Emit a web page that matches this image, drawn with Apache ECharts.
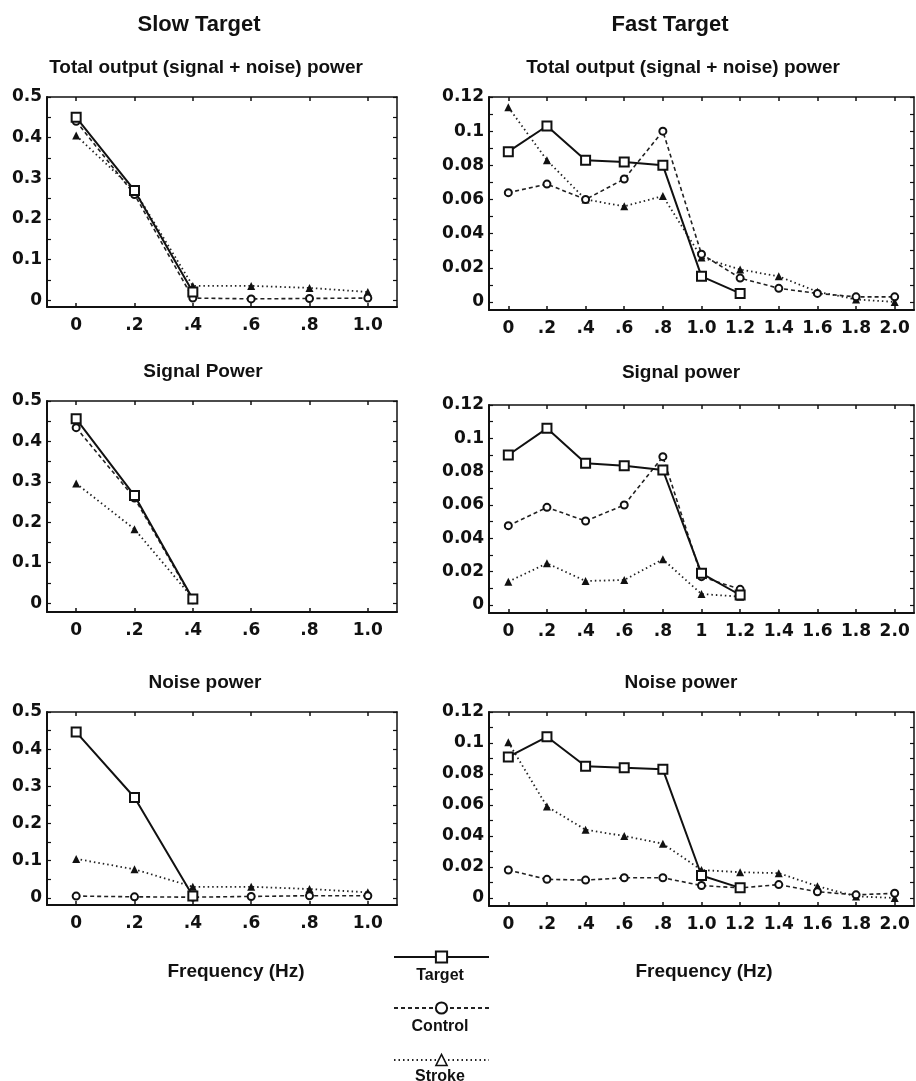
<!DOCTYPE html>
<html>
<head>
<meta charset="utf-8">
<script src="https://cdn.jsdelivr.net/npm/echarts@6/dist/echarts.min.js"></script>
<style>
  html, body { margin: 0; padding: 0; background: #fff; }
  #chart { width: 916px; height: 1081px; }
</style>
</head>
<body>
<div id="chart"></div>
<script>
// ---------- Data ----------
const slowX = [0, 0.2, 0.4, 0.6, 0.8, 1.0];
const fastX = [0, 0.2, 0.4, 0.6, 0.8, 1.0, 1.2, 1.4, 1.6, 1.8, 2.0];

const slowXLabels = ['0', '.2', '.4', '.6', '.8', '1.0'];
const fastXLabels = ['0', '.2', '.4', '.6', '.8', '1.0', '1.2', '1.4', '1.6', '1.8', '2.0'];
const fastXLabelsSignal = ['0', '.2', '.4', '.6', '.8', '1', '1.2', '1.4', '1.6', '1.8', '2.0'];

const slowYTicks = [0, 0.1, 0.2, 0.3, 0.4, 0.5];
const fastYTicks = [0, 0.02, 0.04, 0.06, 0.08, 0.1, 0.12];

// Slow target — total output
const slowTotalTarget  = [0.45, 0.27, 0.02];
const slowTotalControl = [0.44, 0.26, 0.005, 0.003, 0.004, 0.005];
const slowTotalStroke  = [0.405, 0.27, 0.035, 0.035, 0.03, 0.02];
// Fast target — total output
const fastTotalTarget  = [0.088, 0.103, 0.083, 0.082, 0.080, 0.015, 0.005];
const fastTotalControl = [0.064, 0.069, 0.060, 0.072, 0.100, 0.028, 0.014, 0.008, 0.005, 0.003, 0.003];
const fastTotalStroke  = [0.114, 0.083, 0.060, 0.056, 0.062, 0.026, 0.019, 0.015, 0.006, 0.0015, 0.0];
// Slow target — signal power
const slowSignalTarget  = [0.456, 0.266, 0.01];
const slowSignalControl = [0.434, 0.26, 0.008];
const slowSignalStroke  = [0.296, 0.183, 0.012];
// Fast target — signal power
const fastSignalTarget  = [0.09, 0.106, 0.085, 0.0836, 0.081, 0.019, 0.006];
const fastSignalControl = [0.0476, 0.0586, 0.0504, 0.06, 0.089, 0.017, 0.0094];
const fastSignalStroke  = [0.014, 0.025, 0.0144, 0.015, 0.0274, 0.0066, 0.005];
// Slow target — noise power
const slowNoiseTarget  = [0.446, 0.27, 0.005];
const slowNoiseControl = [0.005, 0.003, 0.002, 0.004, 0.006, 0.006];
const slowNoiseStroke  = [0.105, 0.077, 0.03, 0.03, 0.024, 0.015];
// Fast target — noise power
const fastNoiseTarget  = [0.091, 0.104, 0.085, 0.084, 0.083, 0.0145, 0.0065];
const fastNoiseControl = [0.018, 0.012, 0.0115, 0.013, 0.013, 0.008, 0.0065, 0.0086, 0.004, 0.002, 0.003];
const fastNoiseStroke  = [0.1005, 0.059, 0.044, 0.040, 0.035, 0.018, 0.0166, 0.016, 0.0076, 0.001, 0.0];

const seriesNames = ['Target', 'Control', 'Stroke'];

// ---------- Layout / style ----------
const TXT = '#111';
const TITLEF = 'Liberation Sans, Arial, sans-serif';
const TICKF = 'DejaVu Sans, sans-serif';

function steps(max, step) {
  const out = [];
  for (let i = 0; i * step <= max + 1e-9; i++) out.push(Math.round(i * step * 1e6) / 1e6);
  return out;
}

const panels = [
  { grid: { left: 47, top: 97, width: 350, height: 210 }, slow: true, yMin: -0.017,
    data: [slowTotalTarget, slowTotalControl, slowTotalStroke], xl: slowXLabels },
  { grid: { left: 489, top: 97, width: 425, height: 213 }, slow: false, yMin: -0.0047,
    data: [fastTotalTarget, fastTotalControl, fastTotalStroke], xl: fastXLabels },
  { grid: { left: 47, top: 401, width: 350, height: 211 }, slow: true, yMin: -0.022,
    data: [slowSignalTarget, slowSignalControl, slowSignalStroke], xl: slowXLabels },
  { grid: { left: 489, top: 405, width: 425, height: 208 }, slow: false, yMin: -0.0048,
    data: [fastSignalTarget, fastSignalControl, fastSignalStroke], xl: fastXLabelsSignal },
  { grid: { left: 47, top: 712, width: 350, height: 193 }, slow: true, yMin: -0.019,
    data: [slowNoiseTarget, slowNoiseControl, slowNoiseStroke], xl: slowXLabels },
  { grid: { left: 489, top: 712, width: 425, height: 194 }, slow: false, yMin: -0.0052,
    data: [fastNoiseTarget, fastNoiseControl, fastNoiseStroke], xl: fastXLabels }
];

const styles = [
  { symbol: 'emptyRect', symbolSize: 9, line: { color: '#111', width: 2, type: 'solid' }, border: 1.4, z: 5 },
  { symbol: 'emptyCircle', symbolSize: 7, line: { color: '#222', width: 1.6, type: [4, 3] }, border: 1.3, z: 4 },
  { symbol: 'triangle', symbolSize: 8, line: { color: '#222', width: 1.8, type: [1.5, 3] }, border: 0, z: 3 }
];

const grids = [], xAxes = [], yAxes = [], series = [];

panels.forEach((p, gi) => {
  grids.push(Object.assign({ containLabel: false }, p.grid));
  const xs = p.slow ? slowX : fastX;
  const xMax = p.slow ? 1.1 : 2.1;
  const yTicks = p.slow ? slowYTicks : fastYTicks;
  const yMax = p.slow ? 0.5 : 0.12;
  const yMinor = p.slow ? steps(0.5, 0.05) : steps(0.12, 0.01);
  const labels = p.xl;
  const lineSt = { show: true, onZero: false, lineStyle: { color: '#111', width: 2 } };
  xAxes.push({
    type: 'value', gridIndex: gi, position: 'bottom', min: -0.1, max: xMax,
    axisLine: lineSt, splitLine: { show: false },
    axisTick: { show: true, inside: true, length: 4, customValues: xs, lineStyle: { color: '#111', width: 1.5 } },
    axisLabel: {
      show: true, customValues: xs, margin: 10, color: TXT,
      fontFamily: TICKF, fontWeight: 'bold', fontSize: 17,
      formatter: v => { const i = xs.findIndex(t => Math.abs(t - v) < 1e-6); return i >= 0 ? labels[i] : ''; }
    }
  });
  xAxes.push({
    type: 'value', gridIndex: gi, position: 'top', min: -0.1, max: xMax,
    axisLine: { show: true, onZero: false, lineStyle: { color: '#111', width: 1.5 } },
    splitLine: { show: false },
    axisTick: { show: true, inside: true, length: 4, customValues: xs, lineStyle: { color: '#111', width: 1.5 } },
    axisLabel: { show: false }
  });
  yAxes.push({
    type: 'value', gridIndex: gi, position: 'left', min: p.yMin, max: yMax,
    axisLine: lineSt, splitLine: { show: false },
    axisTick: { show: true, inside: true, length: 4, customValues: yMinor, lineStyle: { color: '#111', width: 1.2 } },
    axisLabel: {
      show: true, customValues: yTicks, margin: 5, color: TXT,
      fontFamily: TICKF, fontWeight: 'bold', fontSize: 17,
      formatter: v => String(Math.round(v * 1000) / 1000)
    }
  });
  yAxes.push({
    type: 'value', gridIndex: gi, position: 'right', min: p.yMin, max: yMax,
    axisLine: { show: true, onZero: false, lineStyle: { color: '#111', width: 1.5 } },
    splitLine: { show: false },
    axisTick: { show: true, inside: true, length: 4, customValues: yMinor, lineStyle: { color: '#111', width: 1.2 } },
    axisLabel: { show: false }
  });

  p.data.forEach((ys, si) => {
    const st = styles[si];
    series.push({
      type: 'line', name: seriesNames[si],
      xAxisIndex: gi * 2, yAxisIndex: gi * 2,
      data: ys.map((y, i) => [xs[i], y]),
      symbol: st.symbol, symbolSize: st.symbolSize, showAllSymbol: true,
      lineStyle: st.line,
      itemStyle: { color: '#111', borderColor: '#111', borderWidth: st.border },
      z: st.z, animation: false, silent: true
    });
  });
});

const titles = [
  { t: 'Slow Target', x: 199, y: 25, s: 22 },
  { t: 'Fast Target', x: 670, y: 25, s: 22 },
  { t: 'Total output (signal + noise) power', x: 206, y: 68, s: 19 },
  { t: 'Total output (signal + noise) power', x: 683, y: 68, s: 19 },
  { t: 'Signal Power', x: 203, y: 372, s: 19 },
  { t: 'Signal power', x: 681, y: 373, s: 19 },
  { t: 'Noise power', x: 205, y: 683, s: 19 },
  { t: 'Noise power', x: 681, y: 683, s: 19 },
  { t: 'Frequency (Hz)', x: 236, y: 972, s: 19 },
  { t: 'Frequency (Hz)', x: 704, y: 972, s: 19 }
];

const legendTops = [950, 1001, 1053];
const legendTextY = [976, 1027, 1077];

const option = {
  backgroundColor: '#fff',
  animation: false,
  grid: grids,
  xAxis: xAxes,
  yAxis: yAxes,
  series: series,
  legend: seriesNames.map((n, i) => {
    const lg = {
      data: [n], left: 393, top: legendTops[i], orient: 'horizontal',
      itemWidth: 95, itemHeight: 14, itemGap: 0, padding: 0,
      formatter: () => '', selectedMode: false,
      textStyle: { fontSize: 1 }
    };
    if (n === 'Stroke') lg.itemStyle = { color: '#fff', borderColor: '#111', borderWidth: 1.5 };
    return lg;
  }),
  graphic: [
    ...titles.map(o => ({
      type: 'text', x: o.x, y: o.y,
      style: { text: o.t, font: 'bold ' + o.s + 'px ' + TITLEF, fill: TXT, align: 'center', verticalAlign: 'middle' }
    })),
    ...seriesNames.map((n, i) => ({
      type: 'text', x: 440, y: legendTextY[i],
      style: { text: n, font: 'bold 16px ' + TITLEF, fill: TXT, align: 'center', verticalAlign: 'middle' }
    }))
  ]
};

const chart = echarts.init(document.getElementById('chart'), null, { renderer: 'canvas' });
chart.setOption(option);
</script>
</body>
</html>
